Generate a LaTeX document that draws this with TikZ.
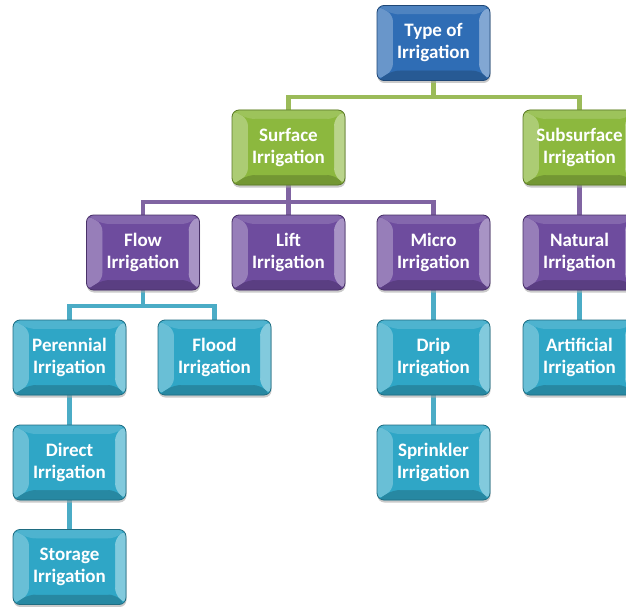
\documentclass[tikz,border=0pt]{standalone}
\usepackage{fontspec}
\setmainfont{Carlito}
\usetikzlibrary{shadows,backgrounds}
\definecolor{cblue}{HTML}{2F6DB5}
\definecolor{cgreen}{HTML}{8CB83E}
\definecolor{cpurple}{HTML}{6E4C9E}
\definecolor{cteal}{HTML}{2FA6C6}
\definecolor{lgreen}{HTML}{9BBB59}
\definecolor{lpurple}{HTML}{8064A2}
\definecolor{lteal}{HTML}{4BACC6}
\tikzset{
  ibox/.style={minimum width=113pt, minimum height=75pt, rounded corners=7pt,
    fill=#1, draw=#1!65!black, line width=0.8pt, text=white, align=center,
    inner sep=0pt, font=\bfseries\fontsize{19}{22}\selectfont,
    execute at begin node={\rule{0pt}{17pt}},
    drop shadow={shadow xshift=0.5pt, shadow yshift=-2.5pt, fill=black!35, opacity=0.6},
    path picture={
      \fill[#1!72!white] (path picture bounding box.north west)
        -- ([xshift=16pt,yshift=-9pt]path picture bounding box.north west)
        -- ([xshift=16pt,yshift=10pt]path picture bounding box.south west)
        -- (path picture bounding box.south west) -- cycle;
      \fill[#1!85!white] (path picture bounding box.north west)
        -- (path picture bounding box.north east)
        -- ([xshift=-11pt,yshift=-9pt]path picture bounding box.north east)
        -- ([xshift=16pt,yshift=-9pt]path picture bounding box.north west) -- cycle;
      \fill[#1!60!white] (path picture bounding box.north east)
        -- ([xshift=-11pt,yshift=-9pt]path picture bounding box.north east)
        -- ([xshift=-11pt,yshift=10pt]path picture bounding box.south east)
        -- (path picture bounding box.south east) -- cycle;
      \fill[#1!82!black] (path picture bounding box.south west)
        -- ([xshift=16pt,yshift=10pt]path picture bounding box.south west)
        -- ([xshift=-11pt,yshift=10pt]path picture bounding box.south east)
        -- (path picture bounding box.south east) -- cycle;
      \fill[#1] ([xshift=16pt,yshift=-9pt]path picture bounding box.north west)
        rectangle ([xshift=-11pt,yshift=10pt]path picture bounding box.south east);
    }},
  conn/.style={line width=4.5pt, draw=#1, line join=miter},
}
\begin{document}
\begin{tikzpicture}[x=1pt,y=-1pt]
\useasboundingbox (0,0) rectangle (626,607);
\clip (0,0) rectangle (626,607);
\coordinate (bg) at (433.5,97);
\coordinate (bp) at (288.5,202);
\coordinate (bt) at (143,306);
% nodes
\node[ibox=cblue]   (top)   at (433.5,43)  {Type of\\Irrigation};
\node[ibox=cgreen]  (surf)  at (288.5,147.5) {Surface\\Irrigation};
\node[ibox=cgreen]  (sub)   at (579.5,147.5) {Subsurface\\Irrigation};
\node[ibox=cpurple] (flow)  at (143,252.5)  {Flow\\Irrigation};
\node[ibox=cpurple] (lift)  at (288.5,252.5) {Lift\\Irrigation};
\node[ibox=cpurple] (micro) at (433.5,252.5) {Micro\\Irrigation};
\node[ibox=cpurple] (nat)   at (579.5,252.5) {Natural\\Irrigation};
\node[ibox=cteal]   (per)   at (69.5,357.5)  {Perennial\\Irrigation};
\node[ibox=cteal]   (flood) at (214.5,357.5) {Flood\\Irrigation};
\node[ibox=cteal]   (drip)  at (433.5,357.5) {Drip\\Irrigation};
\node[ibox=cteal]   (art)   at (579.5,357.5) {Artificial\\Irrigation};
\node[ibox=cteal]   (dir)   at (69.5,462.5)  {Direct\\Irrigation};
\node[ibox=cteal]   (spr)   at (433.5,462.5) {Sprinkler\\Irrigation};
\node[ibox=cteal]   (sto)   at (69.5,567)    {Storage\\Irrigation};
% connectors behind the boxes
\begin{scope}[on background layer]
\draw[conn=lgreen] (top) -- (bg);
\draw[conn=lgreen] (surf) |- (bg) -| (sub);
\draw[conn=lpurple] (surf) -- (bp);
\draw[conn=lpurple] (flow) |- (bp) -| (micro);
\draw[conn=lpurple] (lift) -- (bp);
\draw[conn=lpurple] (sub) -- (nat);
\draw[conn=lteal] (flow) -- (bt);
\draw[conn=lteal] (per) |- (bt) -| (flood);
\draw[conn=lteal] (per) -- (dir);
\draw[conn=lteal] (dir) -- (sto);
\draw[conn=lteal] (micro) -- (drip);
\draw[conn=lteal] (drip) -- (spr);
\draw[conn=lteal] (nat) -- (art);
\end{scope}
\end{tikzpicture}
\end{document}
